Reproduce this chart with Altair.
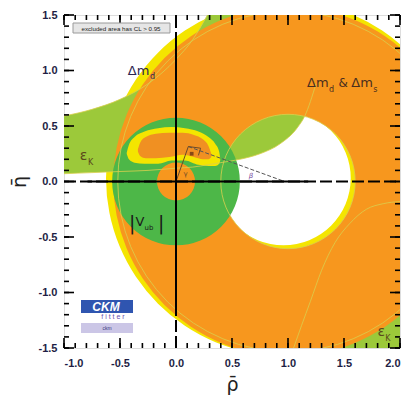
import math
import altair as alt
import pandas as pd

# ---------------------------------------------------------------- axes
RHO_MIN, RHO_MAX = -1.0, 2.0
ETA_MIN, ETA_MAX = -1.5, 1.5
W, H = 336, 333
PX_PER_UNIT = W / (RHO_MAX - RHO_MIN)

major_ticks_rho = [-1.0, -0.5, 0.0, 0.5, 1.0, 1.5, 2.0]
major_ticks_eta = [-1.5, -1.0, -0.5, 0.0, 0.5, 1.0, 1.5]
minor_ticks_rho = [round(-1.0 + 0.1 * i, 1) for i in range(31)]
minor_ticks_eta = [round(-1.5 + 0.1 * i, 1) for i in range(31)]

# ---------------------------------------------------------------- constraints
# Delta m_d (alone) and Delta m_d & Delta m_s: rings around (1, 0)
dmd_center = {"rho": [0.96], "eta": [0.03]}
dm_center = {"rho": [1.0], "eta": [0.0]}
dm_r_yellow = [1.585]
dm_r_orange = [1.56]
dm_r_hole = [0.60]
dm_r_outline = [1.52]

# |V_ub|: ring around the origin
vub_center = {"rho": [0.0], "eta": [0.0]}
vub_r_outer = [0.57]
vub_r_inner = [0.17]

# epsilon_K band (upper branch), lower and upper edges
epsk_rho = [-1.0, -0.75, -0.5, -0.25, 0.0, 0.15, 0.28, 0.40, 0.57, 0.75, 0.93, 1.08, 1.15, 1.25, 1.33, 1.40]
epsk_low = [0.07, 0.08, 0.09, 0.10, 0.12, 0.13, 0.15, 0.17, 0.20, 0.25, 0.34, 0.48, 0.59, 0.88, 1.47, 2.00]
epsk_high = [0.59, 0.65, 0.74, 0.88, 1.10, 1.28, 1.50, 1.75, 2.00, 2.00, 2.00, 2.00, 2.00, 2.00, 2.00, 2.00]

# epsilon_K band (lower branch)
epsk2_rho = [1.05, 1.12, 1.20, 1.30, 1.42, 1.55, 1.70, 1.85, 2.00]
epsk2_top = [-1.50, -1.30, -1.08, -0.80, -0.55, -0.38, -0.25, -0.20, -0.18]

# global fit: 95% CL and 68% CL regions
cres95_rho = [-0.44, -0.42, -0.37, -0.28, -0.16, -0.04, 0.08, 0.20, 0.29, 0.35, 0.385, 0.395]
cres95_top = [0.26, 0.33, 0.40, 0.45, 0.48, 0.49, 0.48, 0.45, 0.40, 0.34, 0.27, 0.21]
cres95_bot = [0.25, 0.20, 0.17, 0.16, 0.16, 0.19, 0.19, 0.15, 0.14, 0.14, 0.16, 0.19]

cres68_rho = [-0.34, -0.32, -0.27, -0.18, -0.06, 0.06, 0.16, 0.24, 0.29, 0.315]
cres68_top = [0.29, 0.35, 0.40, 0.43, 0.44, 0.44, 0.42, 0.38, 0.32, 0.25]
cres68_bot = [0.27, 0.23, 0.21, 0.21, 0.22, 0.24, 0.22, 0.20, 0.20, 0.22]

# unitarity triangle
tri_left_rho = [0.0, 0.11]
tri_left_eta = [0.0, 0.315]
tri_right_rho = [0.11, 0.97]
tri_right_eta = [0.315, 0.0]
alpha_arc_rho = [0.11, 0.22, 0.20]
alpha_arc_eta = [0.315, 0.30, 0.235]
best_fit = {"rho": [0.14], "eta": [0.25]}

# ---------------------------------------------------------------- colours
C_ORANGE = "#f7971e"
C_YELLOW = "#f4e500"
C_LGREEN = "#9cc93a"
C_GREEN = "#4db748"
C_FAINT = "#d9cf4e"

xs = alt.Scale(domain=[RHO_MIN, RHO_MAX], nice=False, zero=False)
ys = alt.Scale(domain=[ETA_MIN, ETA_MAX], nice=False, zero=False)
rs = alt.Scale(type="linear", domain=[0, 1], range=[0, PX_PER_UNIT], zero=True)

LABEL_EXPR = "replace(format(datum.value, '.1f'), '\u2212', '-')"
x_axis = alt.Axis(values=major_ticks_rho, labelExpr=LABEL_EXPR, title="\u03c1\u0304",
                  ticks=False, tickSize=0, domain=False, grid=False,
                  labelFont="Liberation Sans", labelFontWeight="bold", labelFontSize=11,
                  labelColor="#1e1e44", labelPadding=9,
                  titleFont="DejaVu Sans", titleFontWeight="normal", titleFontSize=19,
                  titleColor="#222", titlePadding=7)
y_axis = alt.Axis(values=major_ticks_eta, labelExpr=LABEL_EXPR, title="\u03b7\u0304",
                  ticks=False, tickSize=0, domain=False, grid=False,
                  labelFont="Liberation Sans", labelFontWeight="bold", labelFontSize=11,
                  labelColor="#1e1e44", labelPadding=7,
                  titleFont="DejaVu Sans", titleFontWeight="normal", titleFontSize=19,
                  titleColor="#222", titlePadding=9)


def X(field):
    return alt.X(field, type="quantitative", scale=xs, axis=x_axis)


def Y(field):
    return alt.Y(field, type="quantitative", scale=ys, axis=y_axis)


def ring(center, r_out, r_in, color):
    df = pd.DataFrame({"rho": center["rho"], "eta": center["eta"], "r": r_out, "r2": r_in})
    return alt.Chart(df).mark_arc(color=color, theta=0, theta2=2 * math.pi, clip=True).encode(
        x=X("rho"), y=Y("eta"), radius=alt.Radius("r:Q", scale=rs), radius2=alt.Radius2("r2:Q"))


def circle_outline(center, r, color, width=1.0, opacity=0.8):
    df = pd.DataFrame({"rho": center["rho"], "eta": center["eta"], "r": r})
    return alt.Chart(df).mark_arc(filled=False, color=color, strokeWidth=width, opacity=opacity,
                                  theta=0, theta2=2 * math.pi, clip=True).encode(
        x=X("rho"), y=Y("eta"), radius=alt.Radius("r:Q", scale=rs))


def band(rho, top, bot, color, interp="monotone"):
    df = pd.DataFrame({"rho": rho, "top": top, "bot": bot})
    return alt.Chart(df).mark_area(color=color, interpolate=interp, clip=True).encode(
        x=X("rho"), y=Y("top"), y2="bot")


def curve(rho, eta, color, width=1.0, dash=None, opacity=1.0, interp="monotone"):
    df = pd.DataFrame({"rho": rho, "eta": eta, "i": list(range(len(rho)))})
    kw = dict(color=color, strokeWidth=width, opacity=opacity, interpolate=interp, clip=True)
    if dash:
        kw["strokeDash"] = dash
    return alt.Chart(df).mark_line(**kw).encode(x=X("rho"), y=Y("eta"), order="i:Q")


# ---------------------------------------------------------------- regions
yellow_ring = ring(dmd_center, dm_r_yellow, dm_r_hole, C_YELLOW)
epsk_upper = band(epsk_rho, epsk_high, epsk_low, C_LGREEN)
epsk_lower = band(epsk2_rho, epsk2_top, [-1.6] * len(epsk2_rho), C_LGREEN)
orange_ring = ring(dm_center, dm_r_orange, dm_r_hole, C_ORANGE)
vub_ring = ring(vub_center, vub_r_outer, vub_r_inner, C_GREEN)
fit95 = band(cres95_rho, cres95_top, cres95_bot, C_YELLOW)
fit68 = band(cres68_rho, cres68_top, cres68_bot, "#f09022")

outlines = [
    circle_outline(dm_center, dm_r_outline, C_FAINT, 1.0, 0.8),
    circle_outline(dm_center, dm_r_hole, C_FAINT, 1.0, 0.8),
    curve(epsk_rho[:14], epsk_low[:14], C_FAINT, 1.0, opacity=0.8),
    curve(epsk_rho[:8], epsk_high[:8], C_FAINT, 1.0, opacity=0.8),
    curve(epsk2_rho, epsk2_top, C_FAINT, 1.0, opacity=0.8),
]

# ---------------------------------------------------------------- triangle
triangle = [
    curve(tri_left_rho, tri_left_eta, "#6b4a2a", 1.0, interp="linear"),
    curve(tri_right_rho, tri_right_eta, "#555555", 1.0, dash=[4, 2], interp="linear"),
    curve(alpha_arc_rho, alpha_arc_eta, "#6b4a2a", 1.0, interp="linear"),
    alt.Chart(pd.DataFrame(best_fit)).mark_point(filled=True, color="#5a2a10", size=14, shape="square").encode(
        x=X("rho"), y=Y("eta")),
    alt.Chart(pd.DataFrame({"rho": [0.67], "eta": [0.05], "t": ["\u03b2"]})).mark_text(
        color="#7a4fa0", fontSize=7, font="DejaVu Sans", fontStyle="italic").encode(x=X("rho"), y=Y("eta"), text="t:N"),
    alt.Chart(pd.DataFrame({"rho": [0.085], "eta": [0.07], "t": ["\u03b3"]})).mark_text(
        color="#6b4a2a", fontSize=7, font="DejaVu Sans").encode(x=X("rho"), y=Y("eta"), text="t:N"),
]

# ---------------------------------------------------------------- rho = 0 and eta = 0 lines
axis_v = pd.DataFrame({"rho": [0.0], "e1": [ETA_MIN], "e2": [ETA_MAX]})
axis_h = pd.DataFrame({"eta": [0.0], "r1": [RHO_MIN], "r2": [RHO_MAX]})
solid_v = pd.DataFrame({"rho": [0.0], "e1": [-1.2], "e2": [1.24]})
solid_h = pd.DataFrame({"eta": [0.0], "r1": [-0.79], "r2": [1.18]})
axis_lines = [
    alt.Chart(axis_v).mark_rule(color="black", strokeWidth=2, strokeDash=[12, 4]).encode(x=X("rho"), y=Y("e1"), y2="e2"),
    alt.Chart(axis_h).mark_rule(color="black", strokeWidth=2, strokeDash=[12, 4]).encode(y=Y("eta"), x=X("r1"), x2="r2"),
    alt.Chart(solid_v).mark_rule(color="black", strokeWidth=2).encode(x=X("rho"), y=Y("e1"), y2="e2"),
    alt.Chart(solid_h).mark_rule(color="black", strokeWidth=2).encode(y=Y("eta"), x=X("r1"), x2="r2"),
]

# ---------------------------------------------------------------- frame ticks (inward)
def ticks(values, side, length):
    df = pd.DataFrame({"v": values})
    m = alt.Chart(df).mark_rule(color="black", strokeWidth=1.6)
    if side == "bottom":
        return m.encode(x=X("v"), y=alt.value(H), y2=alt.value(H - length))
    if side == "top":
        return m.encode(x=X("v"), y=alt.value(0), y2=alt.value(length))
    if side == "left":
        return m.encode(y=Y("v"), x=alt.value(0), x2=alt.value(length))
    return m.encode(y=Y("v"), x=alt.value(W), x2=alt.value(W - length))


tick_layers = []
for side in ["bottom", "top"]:
    tick_layers += [ticks(minor_ticks_rho, side, 5), ticks(major_ticks_rho, side, 10)]
for side in ["left", "right"]:
    tick_layers += [ticks(minor_ticks_eta, side, 5), ticks(major_ticks_eta, side, 10)]

# ---------------------------------------------------------------- labels
def label(rho, eta, text, size, color):
    df = pd.DataFrame({"rho": [rho], "eta": [eta], "t": [text]})
    return alt.Chart(df).mark_text(align="left", baseline="alphabetic", fontSize=size, color=color,
                                   font="DejaVu Sans").encode(x=X("rho"), y=Y("eta"), text="t:N")


C_LBL = "#2b2550"
C_LBL2 = "#4a2e1e"
C_EPS = "#5b4a1c"
C_VUB = "#1a1a1a"
labels = [
    label(-0.43, 0.96, "\u0394m", 13, C_LBL),
    label(-0.232, 0.92, "d", 8, C_LBL),
    label(1.17, 0.85, "\u0394m", 13, C_LBL2),
    label(1.365, 0.81, "d", 8, C_LBL2),
    label(1.45, 0.85, "&", 12, C_LBL2),
    label(1.565, 0.85, "\u0394m", 13, C_LBL2),
    label(1.762, 0.81, "s", 8, C_LBL2),
    label(-0.86, 0.19, "\u03b5", 14, C_EPS),
    label(-0.785, 0.145, "K", 8, C_EPS),
    label(1.80, -1.39, "\u03b5", 14, C_EPS),
    label(1.868, -1.435, "K", 8, C_EPS),
    label(-0.42, -0.44, "|", 19, C_VUB),
    label(-0.362, -0.40, "V", 13, C_VUB),
    label(-0.281, -0.44, "ub", 7, C_VUB),
    label(-0.16, -0.44, "|", 19, C_VUB),
]

# ---------------------------------------------------------------- legend box and logo (pixel placed)
def box(x1, x2, y1, y2, fill, stroke=None):
    kw = dict(fill=fill)
    if stroke:
        kw.update(stroke=stroke, strokeWidth=1)
    return alt.Chart(pd.DataFrame({"k": [0]})).mark_rect(**kw).encode(
        x=alt.value(x1), x2=alt.value(x2), y=alt.value(y1), y2=alt.value(y2))


def ptext(x, y, text, size, color, style="normal", weight="normal"):
    return alt.Chart(pd.DataFrame({"t": [text]})).mark_text(
        align="center", baseline="middle", fontSize=size, color=color, font="Liberation Sans",
        fontStyle=style, fontWeight=weight).encode(x=alt.value(x), y=alt.value(y), text="t:N")


decor = [
    box(9, 106, 8, 18, "#e6e6e6", "#9a9a9a"),
    ptext(57, 13.5, "excluded area has CL > 0.95", 6.2, "#222222"),
    box(17, 69, 285, 298, "#2f55b0"),
    ptext(42, 291.5, "CKM", 12, "#ffffff", style="italic", weight="bold"),
    ptext(49, 301.5, "f i t t e r", 7, "#6a4fb0"),
    box(17, 69, 308, 318, "#cbc6e6"),
    ptext(43, 313, "ckm", 5, "#3a3a80"),
]

layers = ([yellow_ring, epsk_upper, epsk_lower, orange_ring, vub_ring, fit95, fit68]
          + outlines + triangle + axis_lines + tick_layers + labels + decor)

chart = alt.layer(*layers).properties(
    width=W, height=H,
    autosize=alt.AutoSizeParams(type="none"),
    padding={"left": 64, "top": 15, "right": 10, "bottom": 50},
).configure_view(stroke="black", strokeWidth=2.2).configure(background="white")

chart.save("out.html", embed_options={"renderer": "svg", "actions": False})
